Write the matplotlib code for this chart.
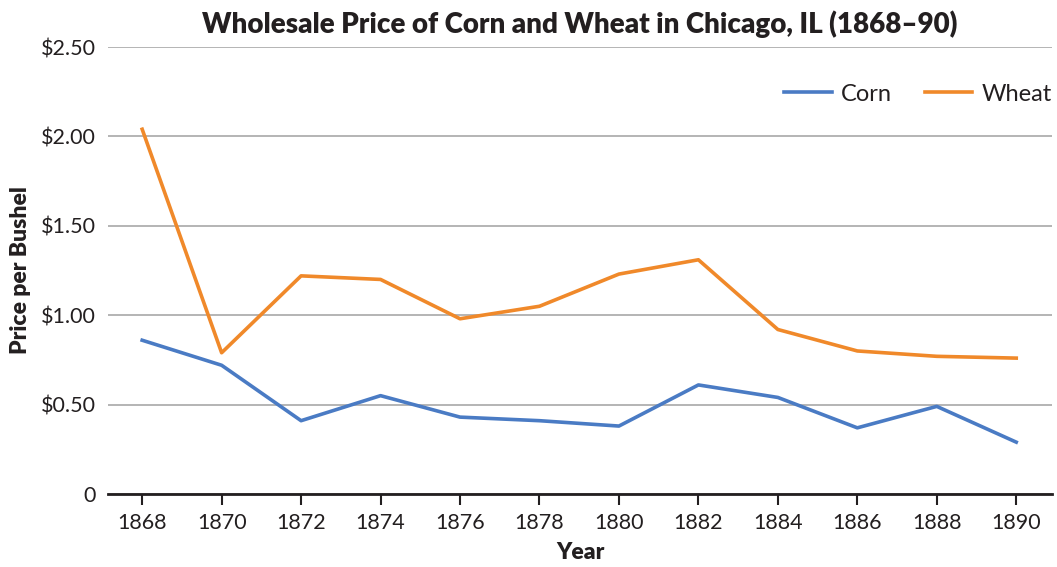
import matplotlib.pyplot as plt

years = [1868, 1870, 1872, 1874, 1876, 1878, 1880, 1882, 1884, 1886, 1888, 1890]
corn = [0.86, 0.72, 0.41, 0.55, 0.43, 0.41, 0.38, 0.61, 0.54, 0.37, 0.49, 0.29]
wheat = [2.04, 0.79, 1.22, 1.20, 0.98, 1.05, 1.23, 1.31, 0.92, 0.80, 0.77, 0.76]
yticks = [0, 0.5, 1.0, 1.5, 2.0, 2.5]
ylabels = ['0', '$0.50', '$1.00', '$1.50', '$2.00', '$2.50']

plt.rcParams['font.family'] = ['Lato', 'DejaVu Sans']

fig = plt.figure(figsize=(10.57, 5.67), dpi=100)
ax = fig.add_axes([108 / 1057, 1 - 494 / 567, (1052 - 108) / 1057, (494 - 47) / 567])

ax.plot(years, corn, color='#4A7BC4', lw=2.6, label='Corn')
ax.plot(years, wheat, color='#F0892A', lw=2.6, label='Wheat')

ax.set_xlim(1867.14, 1890.9)
ax.set_ylim(0, 2.5)
ax.set_xticks(years)
ax.set_yticks(yticks)
ax.set_yticklabels(ylabels)
ax.yaxis.grid(True, color='#A8A8A8', lw=1.2)
ax.set_axisbelow(True)
for s in ['top', 'right', 'left']:
    ax.spines[s].set_visible(False)
ax.spines['bottom'].set_linewidth(2)
ax.spines['bottom'].set_color('#231F20')
ax.tick_params(axis='x', length=8, width=1.5, color='#231F20', labelsize=15.5,
               labelcolor='#231F20', pad=6)
ax.tick_params(axis='y', length=0, labelsize=15.5, labelcolor='#231F20', pad=9)

ax.set_title('Wholesale Price of Corn and Wheat in Chicago, IL (1868\u201390)',
             fontsize=20, fontweight='heavy', color='#231F20', pad=10)
ax.set_xlabel('Year', fontsize=16.5, fontweight='heavy', color='#231F20', labelpad=6)
ax.set_ylabel('Price per Bushel', fontsize=16.5, fontweight='heavy', color='#231F20', labelpad=7)

ax.legend(loc='upper right', frameon=False, ncol=2, fontsize=17, handlelength=2.0,
          handletextpad=0.4, columnspacing=1.4, bbox_to_anchor=(1.0, 0.918),
          borderaxespad=0, borderpad=0, labelcolor='#231F20')

fig.savefig('out.png', dpi=100)
